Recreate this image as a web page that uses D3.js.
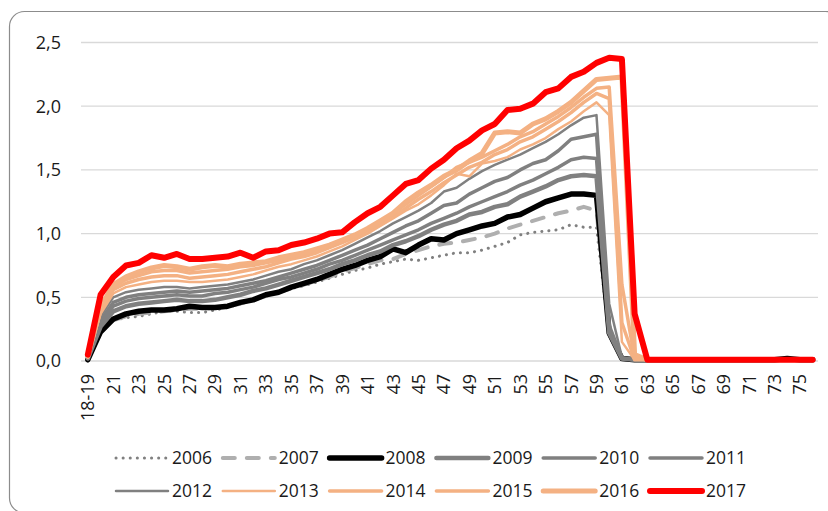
<!DOCTYPE html>
<html><head><meta charset="utf-8">
<script src="https://cdn.jsdelivr.net/npm/d3@7"></script>
<style>
body{margin:0;background:#fff}
svg{display:block}
text{font-family:"Open Sans",sans-serif;fill:#1a1a1a}
</style>
</head><body>
<svg id="chart" width="828" height="511"></svg>
<script>
const categories = ["18-19","20","21","22","23","24","25","26","27","28","29","30","31","32","33","34","35","36","37","38","39","40","41","42","43","44","45","46","47","48","49","50","51","52","53","54","55","56","57","58","59","60","61","62","63","64","65","66","67","68","69","70","71","72","73","74","75","76"];
const yTicks = [0, 0.5, 1, 1.5, 2, 2.5];
const years = ["2006","2007","2008","2009","2010","2011","2012","2013","2014","2015","2016","2017"];

const s2006 = [0.00,0.22,0.32,0.34,0.35,0.37,0.39,0.39,0.38,0.38,0.40,0.42,0.45,0.48,0.51,0.54,0.57,0.59,0.62,0.65,0.68,0.71,0.73,0.76,0.78,0.80,0.79,0.81,0.83,0.85,0.85,0.87,0.90,0.93,0.99,1.01,1.02,1.03,1.07,1.05,1.05,0.20,0.02,0.01,0.01,0.01,0.01,0.01,0.01,0.01,0.01,0.01,0.01,0.01,0.01,0.01,0.01,0.01];
const s2007 = [0.01,0.22,0.32,0.35,0.37,0.38,0.39,0.40,0.41,0.41,0.42,0.43,0.45,0.48,0.51,0.54,0.57,0.60,0.63,0.66,0.70,0.73,0.76,0.79,0.80,0.84,0.87,0.90,0.92,0.93,0.95,0.97,1.00,1.04,1.07,1.10,1.13,1.16,1.18,1.21,1.18,0.21,0.02,0.01,0.01,0.01,0.01,0.01,0.01,0.01,0.01,0.01,0.01,0.01,0.01,0.01,0.01,0.01];
const s2008 = [0.01,0.23,0.33,0.37,0.39,0.40,0.40,0.41,0.43,0.42,0.42,0.43,0.46,0.48,0.52,0.54,0.58,0.61,0.64,0.68,0.72,0.75,0.79,0.82,0.88,0.85,0.91,0.96,0.95,1.00,1.03,1.06,1.08,1.13,1.15,1.20,1.25,1.28,1.31,1.31,1.30,0.22,0.02,0.01,0.01,0.01,0.01,0.01,0.01,0.01,0.01,0.01,0.01,0.01,0.01,0.02,0.01,0.01];
const s2009 = [0.02,0.27,0.39,0.43,0.45,0.46,0.47,0.48,0.47,0.47,0.48,0.50,0.52,0.55,0.57,0.60,0.63,0.66,0.69,0.72,0.76,0.79,0.83,0.86,0.91,0.94,0.98,1.03,1.07,1.10,1.15,1.17,1.21,1.23,1.29,1.33,1.37,1.42,1.45,1.46,1.45,0.22,0.02,0.01,0.01,0.01,0.01,0.01,0.01,0.01,0.01,0.01,0.01,0.01,0.01,0.01,0.01,0.01];
const s2010 = [0.02,0.30,0.43,0.47,0.49,0.50,0.51,0.52,0.51,0.51,0.53,0.54,0.56,0.58,0.61,0.64,0.66,0.69,0.72,0.76,0.79,0.83,0.87,0.91,0.95,0.99,1.03,1.08,1.12,1.16,1.21,1.25,1.29,1.33,1.38,1.42,1.47,1.52,1.58,1.60,1.59,0.25,0.02,0.01,0.01,0.01,0.01,0.01,0.01,0.01,0.01,0.01,0.01,0.01,0.01,0.01,0.01,0.01];
const s2011 = [0.02,0.32,0.46,0.50,0.52,0.53,0.54,0.55,0.54,0.55,0.56,0.57,0.59,0.61,0.63,0.66,0.69,0.72,0.75,0.79,0.83,0.87,0.91,0.96,1.01,1.06,1.10,1.16,1.22,1.24,1.31,1.36,1.41,1.44,1.50,1.55,1.58,1.65,1.74,1.76,1.78,0.28,0.02,0.01,0.01,0.01,0.01,0.01,0.01,0.01,0.01,0.01,0.01,0.01,0.01,0.01,0.01,0.01];
const s2012 = [0.03,0.35,0.50,0.54,0.56,0.57,0.58,0.58,0.57,0.58,0.59,0.60,0.62,0.64,0.67,0.70,0.72,0.76,0.79,0.83,0.87,0.92,0.97,1.02,1.08,1.13,1.18,1.24,1.33,1.36,1.43,1.49,1.54,1.58,1.62,1.67,1.72,1.78,1.85,1.91,1.93,0.45,0.03,0.01,0.01,0.01,0.01,0.01,0.01,0.01,0.01,0.01,0.01,0.01,0.01,0.01,0.01,0.01];
const s2013 = [0.03,0.37,0.53,0.58,0.60,0.62,0.63,0.63,0.62,0.62,0.63,0.64,0.66,0.68,0.71,0.74,0.76,0.79,0.82,0.86,0.90,0.95,1.00,1.06,1.12,1.18,1.23,1.30,1.38,1.47,1.45,1.55,1.57,1.60,1.66,1.70,1.75,1.82,1.88,1.96,2.03,1.93,0.15,0.01,0.01,0.01,0.01,0.01,0.01,0.01,0.01,0.01,0.01,0.01,0.01,0.01,0.01,0.01];
const s2014 = [0.03,0.39,0.56,0.61,0.64,0.66,0.67,0.67,0.65,0.66,0.67,0.68,0.70,0.72,0.74,0.77,0.80,0.82,0.85,0.89,0.93,0.97,1.02,1.07,1.13,1.20,1.27,1.33,1.40,1.46,1.52,1.56,1.62,1.66,1.72,1.76,1.82,1.88,1.95,2.03,2.10,2.06,0.30,0.01,0.01,0.01,0.01,0.01,0.01,0.01,0.01,0.01,0.01,0.01,0.01,0.01,0.01,0.01];
const s2015 = [0.04,0.41,0.58,0.64,0.67,0.70,0.71,0.71,0.69,0.70,0.71,0.72,0.74,0.75,0.77,0.79,0.82,0.84,0.87,0.90,0.94,0.98,1.03,1.09,1.16,1.23,1.30,1.37,1.44,1.52,1.56,1.60,1.65,1.70,1.76,1.80,1.86,1.92,1.99,2.07,2.14,2.15,0.60,0.02,0.01,0.01,0.01,0.01,0.01,0.01,0.01,0.01,0.01,0.01,0.01,0.01,0.01,0.01];
const s2016 = [0.04,0.42,0.60,0.66,0.70,0.73,0.75,0.74,0.72,0.74,0.75,0.74,0.76,0.77,0.78,0.81,0.83,0.85,0.88,0.91,0.95,0.99,1.04,1.10,1.16,1.25,1.32,1.38,1.45,1.50,1.57,1.63,1.79,1.80,1.79,1.86,1.90,1.96,2.03,2.12,2.21,2.22,2.23,0.05,0.01,0.01,0.01,0.01,0.01,0.01,0.01,0.01,0.01,0.01,0.01,0.01,0.01,0.01];
const s2017 = [0.05,0.52,0.66,0.75,0.77,0.83,0.81,0.84,0.80,0.80,0.81,0.82,0.85,0.81,0.86,0.87,0.91,0.93,0.96,1.00,1.01,1.09,1.16,1.21,1.30,1.39,1.42,1.51,1.58,1.67,1.73,1.81,1.86,1.97,1.98,2.02,2.11,2.14,2.23,2.27,2.34,2.38,2.37,0.37,0.01,0.01,0.01,0.01,0.01,0.01,0.01,0.01,0.01,0.01,0.01,0.01,0.01,0.01];

const seriesValues = [s2006,s2007,s2008,s2009,s2010,s2011,s2012,s2013,s2014,s2015,s2016,s2017];
const GREY = "#808080", PEACH = "#F4B183", RED = "#FF0000";
const styles = [
  {color: GREY, width: 3, dash: "0.1 7"},
  {color: "#AFAFAF", width: 4, dash: "12 12"},
  {color: "#000000", width: 5.5, dash: null},
  {color: GREY, width: 4.5, dash: null},
  {color: GREY, width: 3.5, dash: null},
  {color: GREY, width: 3.5, dash: null},
  {color: GREY, width: 2.5, dash: null},
  {color: PEACH, width: 2.5, dash: null},
  {color: PEACH, width: 3.5, dash: null},
  {color: PEACH, width: 3.5, dash: null},
  {color: PEACH, width: 5, dash: null},
  {color: RED, width: 6, dash: null}
];

const svg = d3.select("#chart");

// frame
svg.append("rect").attr("x", 9.5).attr("y", 11.5).attr("width", 831).attr("height", 501.5)
  .attr("rx", 15).attr("ry", 15).attr("fill", "none").attr("stroke", "#8c8c8c").attr("stroke-width", 1.2);

const x = d3.scaleBand().domain(categories).range([81.5, 819]).padding(0);
const xc = c => x(c) + x.bandwidth() / 2;
const y = d3.scaleLinear().domain([0, 2.5]).range([361, 42.5]);

// gridlines
svg.append("g").selectAll("line").data(yTicks).join("line")
  .attr("x1", 81).attr("x2", 818)
  .attr("y1", d => y(d)).attr("y2", d => y(d))
  .attr("stroke", "#d9d9d9").attr("stroke-width", 1.3);

// y labels
const fmt = d => d3.format(".1f")(d).replace(".", ",");
svg.append("g").selectAll("text").data(yTicks).join("text")
  .attr("x", 61).attr("y", d => y(d)).attr("dy", "0.36em")
  .attr("text-anchor", "end").attr("font-size", 18).text(fmt);

// x labels
svg.append("g").selectAll("text").data(categories.filter((c, i) => i % 2 === 0)).join("text")
  .attr("transform", d => `translate(${xc(d)},374) rotate(-90)`)
  .attr("text-anchor", "end").attr("dy", "0.36em").attr("font-size", 18).text(d => d);

// lines
const line = d3.line().x((d, i) => xc(categories[i])).y(d => y(d));
const gLines = svg.append("g");
seriesValues.forEach((vals, k) => {
  const st = styles[k];
  const p = gLines.append("path").datum(vals).attr("d", line)
    .attr("fill", "none").attr("stroke", st.color).attr("stroke-width", st.width)
    .attr("stroke-linejoin", "round").attr("stroke-linecap", "round");
  if (st.dash) p.attr("stroke-dasharray", st.dash);
});

// legend
const lg = svg.append("g");
years.forEach((yr, k) => {
  const row = Math.floor(k / 6), col = k % 6;
  const sx = 114 + col * 106.8, sy = row === 0 ? 458 : 491;
  const st = styles[k];
  const ln = lg.append("line").attr("x1", sx + 2).attr("x2", sx + 54).attr("y1", sy).attr("y2", sy)
    .attr("stroke", st.color).attr("stroke-width", st.width).attr("stroke-linecap", "round");
  if (st.dash) ln.attr("stroke-dasharray", st.dash);
  lg.append("text").attr("x", sx + 58).attr("y", sy).attr("dy", "0.36em")
    .attr("font-size", 17.5).text(yr);
});
</script>
</body></html>
